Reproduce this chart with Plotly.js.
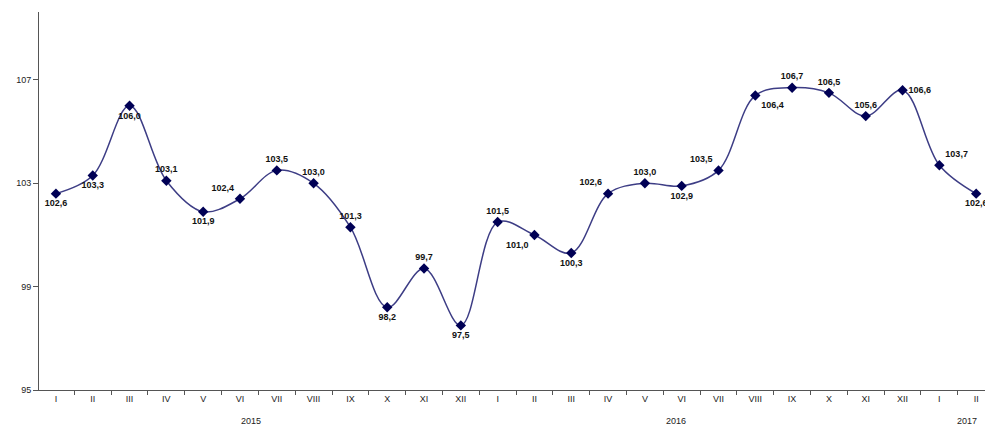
<!DOCTYPE html>
<html>
<head>
<meta charset="utf-8">
<script src="https://cdn.plot.ly/plotly-3.0.1.min.js"></script>
<style>html,body{margin:0;padding:0;background:#fff;}#chart{width:985px;height:425px;}</style>
</head>
<body>
<div id="chart"></div>
<script>
const months = ['I','II','III','IV','V','VI','VII','VIII','IX','X','XI','XII',
                'I','II','III','IV','V','VI','VII','VIII','IX','X','XI','XII',
                'I','II'];
const values = [102.6,103.3,106.0,103.1,101.9,102.4,103.5,103.0,101.3,98.2,99.7,97.5,
                101.5,101.0,100.3,102.6,103.0,102.9,103.5,106.4,106.7,106.5,105.6,106.6,
                103.7,102.6];
const labelPos = ['bottom center','bottom center','bottom center','top center','bottom center','top left',
                  'top center','top center','top center','bottom center','top center','bottom center',
                  'top center','bottom left','bottom center','top left','top center','bottom center',
                  'top left','bottom right','top center','top center','top center','middle right',
                  'top right','bottom center'];
const years = ['2015','2016','2017'];
const yearPos = [5.3, 16.85, 24.75];
const yTicks = [95, 99, 103, 107];

const idx = months.map((m, i) => i);
const texts = values.map(v => v.toFixed(1).replace('.', ','));

const trace = {
  x: idx,
  y: values,
  type: 'scatter',
  mode: 'lines+markers+text',
  line: {shape: 'spline', smoothing: 1, color: '#3d3d85', width: 1.5},
  marker: {symbol: 'diamond', size: 8, color: '#000055'},
  text: texts,
  textposition: labelPos,
  textfont: {family: 'Liberation Sans, Arial, sans-serif', size: 9, color: '#111', weight: 'bold'},
  cliponaxis: false,
  hoverinfo: 'skip'
};

const layout = {
  width: 985, height: 425,
  margin: {l: 39, r: 0, t: 12, b: 35},
  paper_bgcolor: '#fff', plot_bgcolor: '#fff',
  showlegend: false,
  font: {family: 'Liberation Sans, Arial, sans-serif', size: 9, color: '#222'},
  xaxis: {
    range: [-0.46, 25.24],
    tickmode: 'array', tickvals: idx, ticktext: months,
    ticks: '', showgrid: false, zeroline: false,
    showline: true, linecolor: '#555', linewidth: 1,
    tickfont: {size: 9, color: '#222'},
    minor: {tickmode: 'linear', tick0: -0.5, dtick: 1, ticks: 'outside', ticklen: 4, tickcolor: '#555', showgrid: false},
    automargin: false
  },
  yaxis: {
    range: [95, 109.63],
    tickmode: 'array', tickvals: yTicks, ticktext: yTicks.map(String),
    ticks: 'outside', ticklen: 5, tickcolor: '#555',
    showgrid: false, zeroline: false,
    showline: true, linecolor: '#555', linewidth: 1,
    tickfont: {size: 9, color: '#222'},
    automargin: false
  },
  annotations: years.map((y, i) => ({
    x: yearPos[i], y: 0, xref: 'x', yref: 'paper',
    yshift: -24, text: y, showarrow: false,
    font: {size: 9, color: '#222'}, yanchor: 'top'
  }))
};

Plotly.newPlot('chart', [trace], layout, {displayModeBar: false, staticPlot: true});
</script>
</body>
</html>
